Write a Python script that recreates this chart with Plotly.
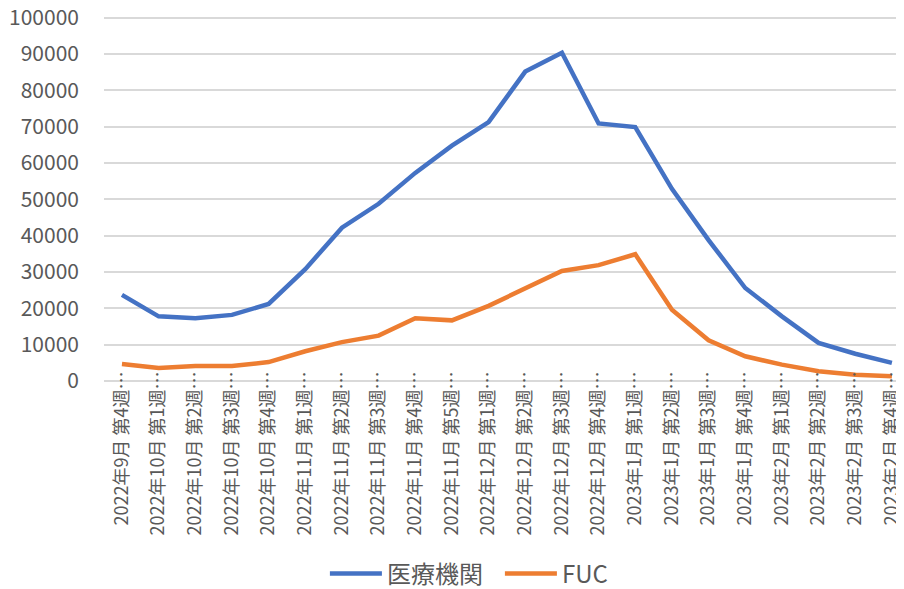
import plotly.graph_objects as go

weeks = [
    "2022年9月 第4週", "2022年10月 第1週", "2022年10月 第2週", "2022年10月 第3週",
    "2022年10月 第4週", "2022年11月 第1週", "2022年11月 第2週", "2022年11月 第3週",
    "2022年11月 第4週", "2022年11月 第5週", "2022年12月 第1週", "2022年12月 第2週",
    "2022年12月 第3週", "2022年12月 第4週", "2023年1月 第1週", "2023年1月 第2週",
    "2023年1月 第3週", "2023年1月 第4週", "2023年2月 第1週", "2023年2月 第2週",
    "2023年2月 第3週", "2023年2月 第4週",
]
tick_labels = [w + "…" for w in weeks]

iryo_kikan = [23700, 17800, 17300, 18200, 21200, 30800, 42200, 48800, 57300, 64800, 71300,
              85200, 90400, 70900, 69900, 52900, 38800, 25600, 17800, 10500, 7500, 5000]
fuc = [4700, 3600, 4100, 4100, 5200, 8200, 10700, 12500, 17300, 16700, 20700,
       25500, 30300, 31900, 34900, 19600, 11200, 6800, 4500, 2700, 1700, 1300]

y_ticks = list(range(0, 100001, 10000))

FONT = "Noto Sans CJK JP"
GRAY = "#595959"

fig = go.Figure()
fig.add_trace(go.Scatter(x=weeks, y=iryo_kikan, mode="lines", name="医療機関",
                         line=dict(color="#4472C4", width=4.5)))
fig.add_trace(go.Scatter(x=weeks, y=fuc, mode="lines", name="FUC",
                         line=dict(color="#ED7D31", width=4.5)))

# the page body adds an 8px margin, so the figure is sized to fill the rest
fig.update_layout(
    width=896, height=581,
    margin=dict(l=96, r=0, t=8.2, b=207.5, autoexpand=False),
    paper_bgcolor="white", plot_bgcolor="white",
    font=dict(family=FONT, color=GRAY),
    showlegend=True,
    legend=dict(orientation="h", xref="container", yref="container",
                x=0.549, y=0.026, xanchor="center", yanchor="middle",
                font=dict(size=24, color=GRAY, family=FONT),
                itemwidth=52, itemsizing="trace",
                entrywidth=108, entrywidthmode="pixels"),
    xaxis=dict(type="category", range=[-0.49, 21.33], automargin=False,
               tickmode="array", tickvals=weeks, ticktext=tick_labels,
               tickangle=-90, tickfont=dict(size=18, color=GRAY, family=FONT),
               showgrid=False, showline=False, zeroline=False, ticks="",
               ticklabelstandoff=-14, ticklabeloverflow="allow"),
    yaxis=dict(range=[0, 100500], tickmode="array", tickvals=y_ticks, automargin=False,
               ticktext=[str(v) for v in y_ticks],
               tickfont=dict(size=21, color=GRAY, family=FONT),
               showgrid=True, gridcolor="#D9D9D9", gridwidth=1.5,
               zeroline=True, zerolinecolor="#D9D9D9", zerolinewidth=1.5,
               showline=False, ticks="", ticklabelstandoff=24,
               ticklabeloverflow="allow"),
)

fig.write_html("out.html")
